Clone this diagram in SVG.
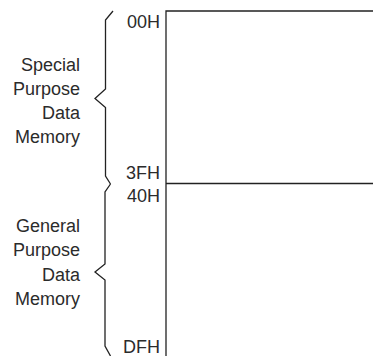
<svg xmlns="http://www.w3.org/2000/svg" width="373" height="356" viewBox="0 0 373 356">
<style>
text{font-family:"Liberation Sans",Arial,sans-serif;font-size:18px;fill:#2b2b2b;text-anchor:end}
.ln{stroke:#222;stroke-width:1.3;fill:none}
.br{stroke:#222;stroke-width:1.3;fill:none;stroke-linejoin:miter}
</style>
<rect width="373" height="356" fill="#fff"/>
<g id="memory-map">
<path class="ln" d="M166,356 V11 H373 M166,183.5 H373"/>
</g>
<g id="special-brace">
<path class="br" d="M113,11 L105.5,20 V89 L95,98.5 L105.5,107.5 V176 L110.5,184"/>
</g>
<g id="general-brace">
<path class="br" d="M110.5,184 L105,192 V264 L95,272 L105,280 V346 L110.5,356"/>
</g>
<g id="addresses">
<text x="160" y="27.5">00H</text>
<text x="160" y="178.5">3FH</text>
<text x="160" y="201.5">40H</text>
<text x="160" y="353">DFH</text>
</g>
<g id="special-label">
<text x="80" y="71">Special</text>
<text x="80" y="94.5">Purpose</text>
<text x="80" y="118.5">Data</text>
<text x="80" y="142.5">Memory</text>
</g>
<g id="general-label">
<text x="80" y="232">General</text>
<text x="80" y="256">Purpose</text>
<text x="80" y="280.5">Data</text>
<text x="80" y="305">Memory</text>
</g>
</svg>
